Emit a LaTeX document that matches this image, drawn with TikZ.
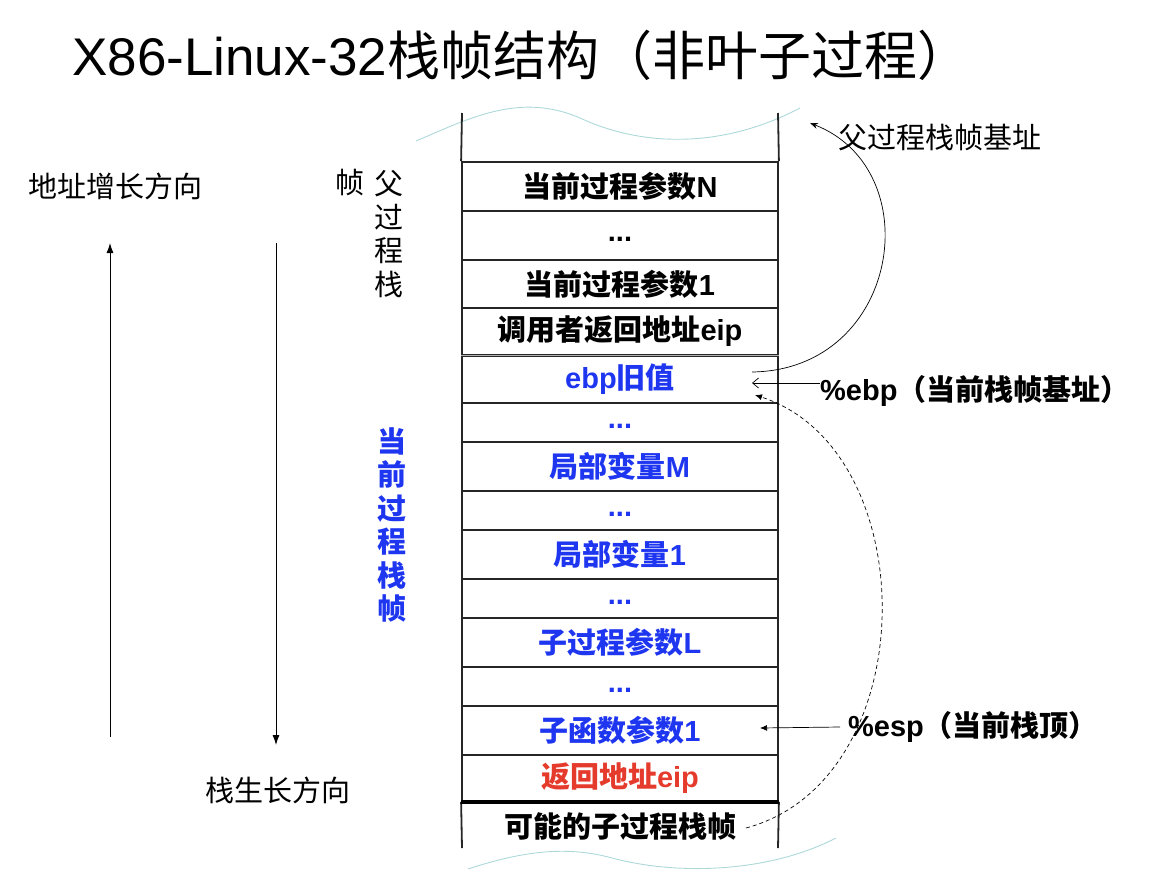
\documentclass[tikz,border=0pt]{standalone}
\usepackage{fontspec}
\setmainfont{Liberation Sans}
\newfontfamily\zh{Noto Sans CJK SC}
\usepackage{xcolor}
\usepackage{tikz}
\usetikzlibrary{arrows.meta}
\definecolor{curblue}{HTML}{1E36F0}
\definecolor{retred}{HTML}{E53B2C}
\definecolor{wavecol}{HTML}{ADD8D8}

\begin{document}
\begin{tikzpicture}[
  x=1pt,
  y=-1pt,
  cell/.style={draw=black!85, line width=1.8pt, minimum width=316pt, inner sep=0pt, font=\fontsize{29}{33}\selectfont\bfseries},
  cur/.style={cell, text=curblue},
  dots/.style={text height=12pt, text depth=0pt},
  side/.style={font=\fontsize{29}{33.5}\selectfont\zh, inner sep=0pt},
  vert/.style={side, align=center},
  ptr/.style={side, font=\fontsize{29}{33}\selectfont\bfseries, anchor=west},
  wave/.style={draw=wavecol, line width=0.9pt},
  growth/.style={-{Latex[length=10pt,width=7pt]}, line width=0.9pt},
  link/.style={line width=0.7pt},
  every node/.style={font=\fontsize{29}{33}\selectfont}
]
\useasboundingbox (0,0) rectangle (1172,870);

% title
\node[anchor=base west, inner sep=0pt, font=\fontsize{53}{60}\selectfont] (title) at (72,75) {X86-Linux-32{\zh 栈帧结构（非叶子过程）}};

% torn edges of the stack
\draw[wave] (416,141) .. controls (470,118) and (520,92) .. (580,118) .. controls (640,146) and (720,150) .. (800,108);
\draw[wave] (468,869) .. controls (520,852) and (565,845) .. (612,858) .. controls (680,876) and (770,872) .. (836,838);

% stack cells
\node[cell, minimum height=49pt] (argN) at (620,186.5) {{\zh 当前过程参数}N};
\node[cell, dots, minimum height=49pt] (argD) at (620,235.5) {...};
\node[cell, minimum height=48pt] (arg1) at (620,284) {{\zh 当前过程参数}1};
\node[cell, minimum height=47pt] (ret) at (620,331.5) {{\zh 调用者返回地址}eip};
\node[cur, minimum height=48pt] (ebp) at (620,379) {ebp{\zh 旧值}};
\node[cur, dots, minimum height=39pt] (dotA) at (620,422.5) {...};
\node[cur, minimum height=49pt] (locM) at (620,466.5) {{\zh 局部变量}M};
\node[cur, dots, minimum height=39pt] (dotB) at (620,510.5) {...};
\node[cur, minimum height=49pt] (loc1) at (620,554.5) {{\zh 局部变量}1};
\node[cur, dots, minimum height=39pt] (dotC) at (620,598.5) {...};
\node[cur, minimum height=49pt] (subL) at (620,642.5) {{\zh 子过程参数}L};
\node[cur, dots, minimum height=39pt] (dotD) at (620,686.5) {...};
\node[cur, minimum height=49pt] (sub1) at (620,730.5) {{\zh 子函数参数}1};
\node[cell, minimum height=46pt, text=retred] (reip) at (620,778) {{\zh 返回地址}eip};
\node[inner sep=0pt, font=\fontsize{29}{33}\selectfont\bfseries] (child) at (620,826) {\zh 可能的子过程栈帧};

\draw[line width=1.8pt, draw=black!85] (462,113) -- (argN.north west);
\draw[line width=1.8pt, draw=black!85] (778,113) -- (argN.north east);
\draw[line width=1.8pt, draw=black!85] (reip.south west) -- (462,848);
\draw[line width=1.8pt, draw=black!85] (reip.south east) -- (778,848);
\draw[line width=1pt, draw=black!85, double=gray!60, double distance=0.9pt] (ret.south west) -- (ret.south east);
\draw[line width=3.6pt] (reip.south west) -- (reip.south east);

% growth directions
\node[side, anchor=west] (addr) at (28,186) {地址增长方向};
\node[side, anchor=west] (grow) at (205,790) {栈生长方向};
\coordinate (upS) at (110,737);
\coordinate (upE) at (110,243);
\coordinate (dnS) at (276,243);
\coordinate (dnE) at (276,745);
\draw[growth] (upS) -- (upE);
\draw[growth] (dnS) -- (dnE);

% frame labels
\node[side] (frmA) at (350,183) {帧};
\node[vert] (frmB) at (389,234) {父\\过\\程\\栈};
\node[vert, text=curblue, font=\fontsize{29}{33.5}\selectfont\zh\bfseries] (curF) at (392,525) {当\\前\\过\\程\\栈\\帧};

% pointers
\node[side, anchor=west] (pbase) at (838,138) {父过程栈帧基址};
\node[ptr] (ebpL) at (820,391) {\%ebp{\zh （当前栈帧基址）}};
\node[ptr] (espL) at (848,727) {\%esp{\zh （当前栈顶）}};
\coordinate (ebpIn) at (752,372);
\coordinate (pbaseTip) at (810,123);
\coordinate (ebpTip) at (752,383);
\coordinate (ebpTip2) at (755,395);
\coordinate (espTip) at (760,728);
\coordinate (childOut) at (746,828);
\draw[link, -{Stealth[length=8pt,width=6pt]}] (ebpIn) .. controls (900,370) and (930,170) .. (pbaseTip);
\draw[link, -{Straight Barb[length=6pt,width=10pt]}] ([yshift=8pt]ebpL.west) -- (ebpTip);
\draw[link, -{Latex[length=7pt,width=6pt]}] ([xshift=-8pt]espL.west) -- (espTip);
\draw[link, dash pattern=on 4pt off 3pt, -{Latex[length=7pt,width=6pt]}] (childOut) .. controls (925,780) and (925,450) .. (ebpTip2);
\end{tikzpicture}
\end{document}
